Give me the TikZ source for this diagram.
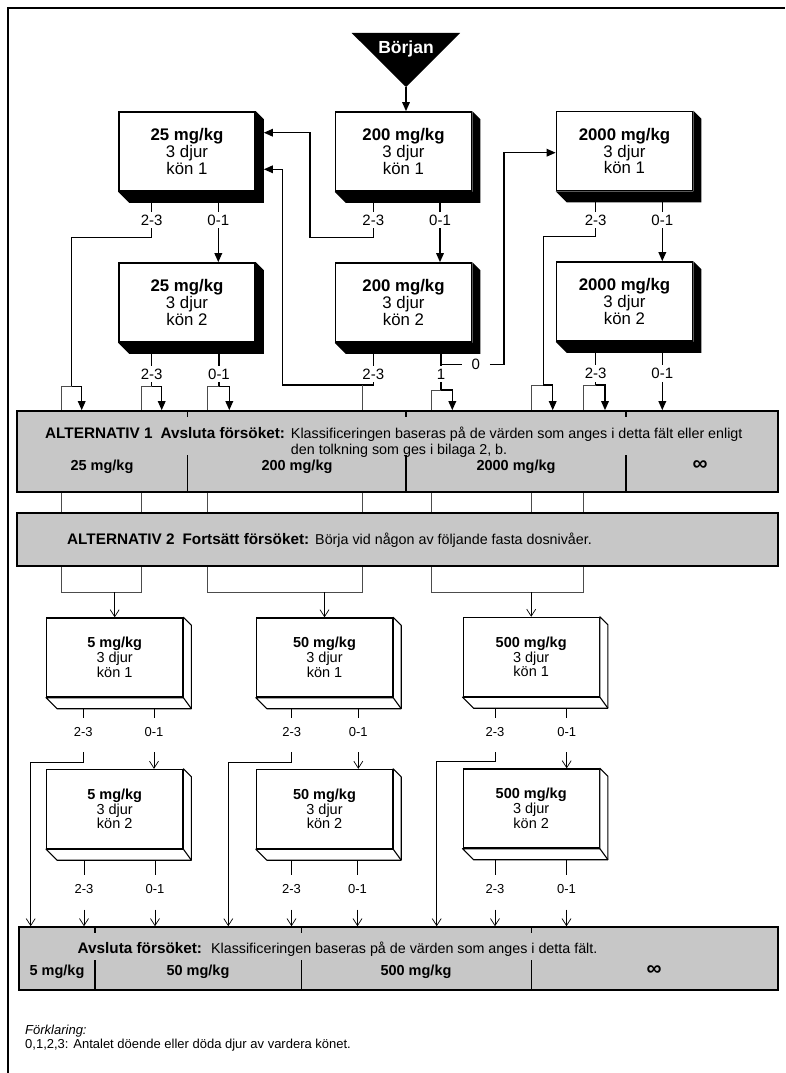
\documentclass[tikz,border=0pt]{standalone}
\usepackage{fontspec}
\setmainfont{Liberation Sans}
\usetikzlibrary{arrows.meta,calc}

\tikzset{
  thk/.style={line width=1.5pt},
  thn/.style={line width=0.6pt, draw=black!70},
  fat/.style={thk, -{Triangle[length=9pt,width=7.5pt]}},
  lin/.style={line width=0.7pt},
  barb/.style={lin, -{Straight Barb[length=7pt,width=9pt]}},
  upbox/.style={draw, line width=1.6pt, fill=white, minimum width=136pt, minimum height=79pt,
    inner sep=0pt, align=center, font=\fontsize{16.8}{15.2}\selectfont},
  lobox/.style={draw, line width=1.4pt, fill=white, minimum width=136pt, minimum height=79pt,
    inner sep=0pt, align=center, font=\fontsize{14.5}{14.7}\selectfont},
  uplab/.style={inner sep=0pt, outer sep=3pt, text height=10.5pt, text depth=0pt,
    font=\fontsize{15}{15}\selectfont},
  lolab/.style={inner sep=0pt, outer sep=9pt, text height=9.3pt, text depth=0pt,
    font=\fontsize{13}{13}\selectfont},
  band/.style={draw, line width=1.6pt, fill=black!22, inner sep=0pt},
  bandtxt/.style={inner sep=0pt, anchor=base west, font=\fontsize{14.3}{16}\selectfont},
  dose/.style={inner sep=0pt, anchor=base, font=\fontsize{14.5}{16}\selectfont\bfseries},
  divider/.style={line width=1.5pt},
}

% heading part of a band text
\newcommand\bandhead[1]{{\fontsize{15.3}{16}\selectfont\bfseries #1}}
% the "unlimited" column mark
\newcommand\infmark{{\fontsize{21}{16}\selectfont\bfseries ∞}}

% solid black extrusion of an upper dose box
\newcommand\darkdepth[1]{%
  \fill (#1.north east) -- ++(8,8) -- ($(#1.south east)+(8,11)$)
    -- ($(#1.south west)+(11,11)$) -- (#1.south west) -- (#1.south east) -- cycle;
  \coordinate (#1b) at ($(#1.south)+(0,11)$);
  \coordinate (#1r) at ($(#1.east)+(8,0)$);}

% open white extrusion of a lower dose box
\newcommand\whitedepth[1]{%
  \draw[line width=1.1pt, fill=white, line join=round] (#1.north east) -- ++(8,8)
    -- ($(#1.south east)+(8,11)$) -- ($(#1.south west)+(11,11)$) -- (#1.south west)
    -- (#1.south east) -- cycle;
  \draw[line width=1.1pt] (#1.south east) -- ++(8,11);
  \coordinate (#1b) at ($(#1.south)+(0,11)$);}

\begin{document}
\begin{tikzpicture}[x=1pt,y=-1pt]
\useasboundingbox (0,0) rectangle (785,1073);

% frame
\draw[line width=1.6pt] (8,1073) -- (8,8) -- (785,8);

% start marker
\fill (351.7,33) -- (460,33) -- (406,87) -- cycle;
\node[font=\fontsize{17.5}{17.5}\selectfont\bfseries, text=white, inner sep=0pt] (start) at (406,49) {Början};
\coordinate (apex) at (406,87);

% ---------- upper dose boxes ----------
\node[upbox] (A1) at (187,151.5)   {\textbf{25 mg/kg}\\3 djur\\kön 1};
\node[upbox] (B1) at (403.5,151.5) {\textbf{200 mg/kg}\\3 djur\\kön 1};
\node[upbox] (C1) at (624.5,151)   {\textbf{2000 mg/kg}\\3 djur\\kön 1};
\node[upbox] (A2) at (187,302.5)   {\textbf{25 mg/kg}\\3 djur\\kön 2};
\node[upbox] (B2) at (403.5,302.5) {\textbf{200 mg/kg}\\3 djur\\kön 2};
\node[upbox] (C2) at (624.5,301.5) {\textbf{2000 mg/kg}\\3 djur\\kön 2};
\darkdepth{A1}\darkdepth{B1}\darkdepth{C1}
\darkdepth{A2}\darkdepth{B2}\darkdepth{C2}

\draw[fat] (apex) -- (B1.north -| apex);

% ---------- bands ----------
\node[band, minimum width=761pt, minimum height=81pt] (alt1) at (397.5,451.5) {};
\node[bandtxt] (alt1txt) at (45,438) {\begin{tabular}[t]{@{}l@{\hspace{6pt}}l@{}}
  \bandhead{ALTERNATIV 1\hspace{8pt}Avsluta försöket:} & Klassificeringen baseras på de värden som anges i detta fält eller enligt\\
  & den tolkning som ges i bilaga 2, b.\end{tabular}};
\node[dose] (d25)   at (102,470) {25 mg/kg};
\node[dose] (d200)  at (297,470) {200 mg/kg};
\node[dose] (d2000) at (516,470) {2000 mg/kg};
\node[dose] (dinfa) at (700,470) {\infmark};
\foreach \x in {187.5,406,626} {
  \draw[divider] (alt1.north -| \x,0) -- ++(0,7);
  \draw[divider] (\x,455) -- (alt1.south -| \x,0);
}

\node[band, minimum width=761pt, minimum height=53pt] (alt2) at (397.5,539.5) {};
\node[bandtxt] (alt2txt) at (67,544) {\bandhead{ALTERNATIV 2\hspace{8pt}Fortsätt försöket:}\hspace{6pt}Börja vid någon av följande fasta dosnivåer.};

\node[band, minimum width=759pt, minimum height=63pt] (fin) at (398.5,958.5) {};
\node[bandtxt] (fintxt) at (77.5,953) {\bandhead{Avsluta försöket:}\hspace{9pt}Klassificeringen baseras på de värden som anges i detta fält.};
\node[dose] (d5)   at (57,975)  {5 mg/kg};
\node[dose] (d50)  at (198,975) {50 mg/kg};
\node[dose] (d500) at (416,975) {500 mg/kg};
\node[dose] (dinfb) at (654,975) {\infmark};
\foreach \x in {95,301.5,531.5} {
  \draw[divider] (fin.north -| \x,0) -- ++(0,7);
  \draw[divider] (\x,960) -- (fin.south -| \x,0);
}

% ---------- upper outcome labels ----------
\node[uplab] (a1l) at (151.7,220) {2-3};
\node[uplab] (a1r) at (218.3,220) {0-1};
\node[uplab] (b1l) at (373.3,220) {2-3};
\node[uplab] (b1r) at (440,220)   {0-1};
\node[uplab] (c1l) at (595.7,220) {2-3};
\node[uplab] (c1r) at (662.3,220) {0-1};
\node[uplab] (a2l) at (151.7,374) {2-3};
\node[uplab] (a2r) at (219,374)   {0-1};
\node[uplab] (b2l) at (373.3,374) {2-3};
\node[uplab] (b2one) at (441,374) {1};
\node[uplab, outer xsep=10pt] (b2zero) at (475.7,364.5) {0};
\node[uplab] (c2l) at (595.7,373.5) {2-3};
\node[uplab] (c2r) at (662.3,373.5) {0-1};

\foreach \b/\l in {A1/a1l,A1/a1r,B1/b1l,B1/b1r,C1/c1l,C1/c1r,A2/a2l,A2/a2r,B2/b2l,C2/c2l,C2/c2r}
  \draw[thk] (\b b -| \l) -- (\l.north);

% 25 mg/kg, kön 1
\draw[fat] (a1l.south) |- (71.7,237.3) |- (81.7,386.7) -- (alt1.north -| 81.7,0);
\draw[thn] (71.7,386.7) -| (alt1.north -| 61,0);
\draw[fat] (a1r.south) -- (A2.north -| a1r);
% 200 mg/kg, kön 1
\draw[fat] (b1l.south) |- (310,237.3) |- (A1r |- 0,132.7);
\draw[fat] (b1r.south) -- (B2.north -| b1r);
% 2000 mg/kg, kön 1
\draw[fat] (c1l.south) |- (543.3,236.7) |- (552.7,385) -- (alt1.north -| 552.7,0);
\draw[thn] (543.3,385) -| (alt1.north -| 531.7,0);
\draw[fat] (c1r.south) -- (C2.north -| c1r);
% 25 mg/kg, kön 2
\draw[fat] (a2l.south) |- (161.7,386.7) -- (alt1.north -| 161.7,0);
\draw[thn] (151.7,386.7) -| (alt1.north -| 141,0);
\draw[fat] (a2r.south) |- (229.3,386.7) -- (alt1.north -| 229.3,0);
\draw[thn] (219,386.7) -| (alt1.north -| 207.7,0);
% 200 mg/kg, kön 2
\draw[fat] (b2l.south) |- (282.7,385) |- (A1r |- 0,169.3);
\draw[thn] (362,385) -- (alt1.north -| 362,0);
\draw[thk] (B2b -| b2one) -- (441,364.5) -- (b2zero.west);
\draw[thk] (441,364.5) -- (b2one.north);
\draw[fat] (b2zero.east) -| (504,152.7) -- (C1.west |- 0,152.7);
\draw[fat] (b2one.south) |- (452.3,390) -- (alt1.north -| 452.3,0);
\draw[thn] (441,390) -| (alt1.north -| 431,0);
% 2000 mg/kg, kön 2
\draw[fat] (c2l.south) |- (605,385) -- (alt1.north -| 605,0);
\draw[thn] (595.7,385) -| (alt1.north -| 583.3,0);
\draw[fat] (c2r.south) -- (alt1.north -| c2r);

% paths continuing through alternative 1 into alternative 2
\foreach \x in {61,141,207.7,362,431,531.7,583.3}
  \draw[thn] (alt1.south -| \x,0) -- (alt2.north -| \x,0);

% ---------- lower dose boxes ----------
\node[lobox] (D1) at (114.7,657.5) {\textbf{5 mg/kg}\\3 djur\\kön 1};
\node[lobox] (E1) at (324.5,657.5) {\textbf{50 mg/kg}\\3 djur\\kön 1};
\node[lobox] (F1) at (531.2,657)   {\textbf{500 mg/kg}\\3 djur\\kön 1};
\node[lobox] (D2) at (114.7,809)   {\textbf{5 mg/kg}\\3 djur\\kön 2};
\node[lobox] (E2) at (324.5,809)   {\textbf{50 mg/kg}\\3 djur\\kön 2};
\node[lobox] (F2) at (531.2,808.5) {\textbf{500 mg/kg}\\3 djur\\kön 2};
\whitedepth{D1}\whitedepth{E1}\whitedepth{F1}
\whitedepth{D2}\whitedepth{E2}\whitedepth{F2}

% entry brackets below alternative 2
\draw[thn] (alt2.south -| 61,0) |- (141,592) -- (alt2.south -| 141,0);
\draw[thn] (alt2.south -| 207.7,0) |- (362,592) -- (alt2.south -| 362,0);
\draw[thn] (alt2.south -| 431,0) |- (583.3,592) -- (alt2.south -| 583.3,0);
\draw[barb] (D1.north |- 0,592) -- (D1.north);
\draw[barb] (E1.north |- 0,592) -- (E1.north);
\draw[barb] (F1.north |- 0,592) -- (F1.north);

% ---------- lower outcome labels ----------
\node[lolab] (d1l) at (83.3,731.7)  {2-3};
\node[lolab] (d1r) at (154,731.7)   {0-1};
\node[lolab] (e1l) at (291.7,731.7) {2-3};
\node[lolab] (e1r) at (358.3,731.7) {0-1};
\node[lolab] (f1l) at (495,731.7)   {2-3};
\node[lolab] (f1r) at (566.7,731.7) {0-1};
\node[lolab] (d2l) at (84,889)    {2-3};
\node[lolab] (d2r) at (155,889)   {0-1};
\node[lolab] (e2l) at (291.5,889) {2-3};
\node[lolab] (e2r) at (357.5,889) {0-1};
\node[lolab] (f2l) at (495,889)   {2-3};
\node[lolab] (f2r) at (566.5,889) {0-1};

\foreach \b/\l in {D1/d1l,D1/d1r,E1/e1l,E1/e1r,F1/f1l,F1/f1r,D2/d2l,D2/d2r,E2/e2l,E2/e2r,F2/f2l,F2/f2r}
  \draw[lin] (\b b -| \l) -- (\l.north);

\draw[barb, shorten <=7pt] (d1l.south) |- (30.7,762.3) -- (fin.north -| 30.7,0);
\draw[barb, shorten <=7pt] (d1r.south) -- (D2.north -| d1r);
\draw[barb, shorten <=7pt] (e1l.south) |- (228.3,762) -- (fin.north -| 228.3,0);
\draw[barb, shorten <=7pt] (e1r.south) -- (E2.north -| e1r);
\draw[barb, shorten <=7pt] (f1l.south) |- (436.7,761.7) -- (fin.north -| 436.7,0);
\draw[barb, shorten <=7pt] (f1r.south) -- (F2.north -| f1r);
\foreach \l in {d2l,d2r,e2l,e2r,f2l,f2r}
  \draw[barb, shorten <=7pt] (\l.south) -- (fin.north -| \l);

% ---------- legend ----------
\node[anchor=base west, inner sep=0pt, font=\fontsize{13}{14}\selectfont\itshape] (key1) at (25,1034) {Förklaring:};
\node[anchor=base west, inner sep=0pt, font=\fontsize{13}{14}\selectfont] (key2) at (25,1048) {0,1,2,3: Antalet döende eller döda djur av vardera könet.};
\end{tikzpicture}
\end{document}
